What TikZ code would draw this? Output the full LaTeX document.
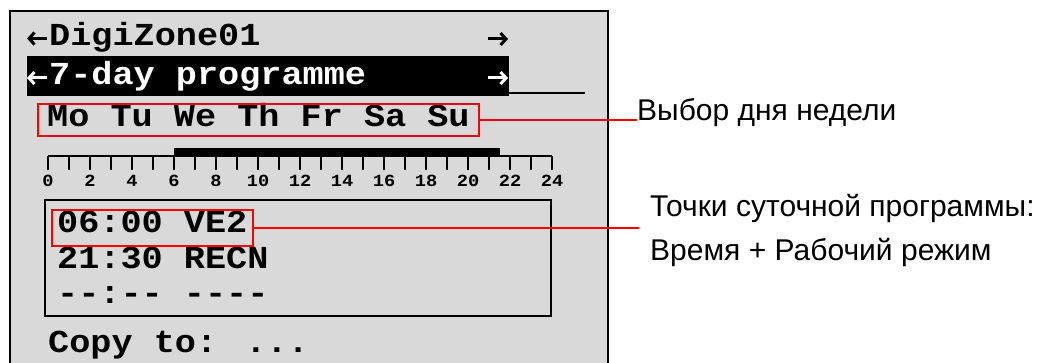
\documentclass[tikz,border=0pt]{standalone}
\usepackage{fontspec}
\setsansfont{Liberation Sans}
\newfontfamily\lcdfont[FakeStretch=1.1]{Liberation Mono}
\definecolor{lcdgray}{HTML}{D9D9D9}
\definecolor{callred}{HTML}{FF0000}
\tikzset{
  lcd/.style={anchor=base west, inner sep=0pt, font=\lcdfont\bfseries\fontsize{32}{38}\selectfont},
  ticklbl/.style={anchor=center, inner sep=0pt, font=\lcdfont\bfseries\fontsize{17}{20}\selectfont},
  callbox/.style={draw=callred, line width=1.4pt, inner sep=0pt},
  callline/.style={draw=callred, line width=1.4pt},
  calltext/.style={anchor=base west, inner ysep=0pt, font=\sffamily\fontsize{30}{36}\selectfont},
  navarrow/.style={line width=3pt, line cap=butt, line join=miter},
}
\newcommand{\navleft}[3]{% x-left, x-right, y
  \draw[navarrow,#3] (#1+6.5,#2-6) -- (#1+1,#2) -- (#1+6.5,#2+6);
  \draw[navarrow,#3] (#1+1,#2) -- (#1+19,#2);}
\newcommand{\navright}[3]{%
  \draw[navarrow,#3] (#1+12.5,#2-6) -- (#1+18,#2) -- (#1+12.5,#2+6);
  \draw[navarrow,#3] (#1,#2) -- (#1+18,#2);}
\begin{document}
\begin{tikzpicture}[x=1pt,y=-1pt]
\clip (0,0) rectangle (1051,363);
% outer display
\draw[fill=lcdgray, line width=2.5pt] (10,11) rectangle (608,380);
% header rows
\navleft{28}{38.5}{black}
\node[lcd] (r1) at (49,46) {DigiZone01};
\navright{488}{39}{black}
\fill (27,56) rectangle (509,96);
\navleft{28}{78}{white}
\node[lcd, text=white] (r2) at (49,85) {7-day programme};
\navright{488}{78}{white}
\draw[line width=2pt] (509,93) -- (585,93);
% days
\node[lcd] (days) at (47,127) {Mo Tu We Th Fr Sa Su};
\node[callbox, minimum width=441pt, minimum height=32pt] (daybox) at (258.5,120) {};
% timeline
\fill (174,148) rectangle (500,156);
\draw[line width=2pt] (48,156) -- (552,156);
\foreach \i in {0,...,24}{
  \draw[line width=2pt] (48+21*\i,156) -- ++(0,14);
}
\foreach \i in {0,2,...,24}{
  \node[ticklbl] (t\i) at (48+21*\i,181) {\i};
}
% switching points box
\draw[line width=1.6pt] (45,200) rectangle (551,316);
\node[lcd] (p1) at (57,233) {06:00 VE2};
\node[lcd] (p2) at (57,268) {21:30 RECN};
\node[lcd] (p3) at (57,303) {--:-- ----};
\node[callbox, minimum width=201pt, minimum height=36pt] (ptbox) at (152.5,228) {};
\node[lcd] (copy) at (48,352) {Copy to: ...};
% callouts
\node[calltext, inner xsep=0pt] (lbl1) at (637,121) {Выбор дня недели};
\node[calltext, inner xsep=11pt] (lbl2a) at (639,217) {Точки суточной программы:};
\node[calltext, inner xsep=11pt] (lbl2b) at (639,260) {Время + Рабочий режим};
\draw[callline] (daybox.east) -- (daybox.east -| lbl1.west);
\draw[callline] (ptbox.east) -- (ptbox.east -| lbl2a.west);
\end{tikzpicture}
\end{document}
